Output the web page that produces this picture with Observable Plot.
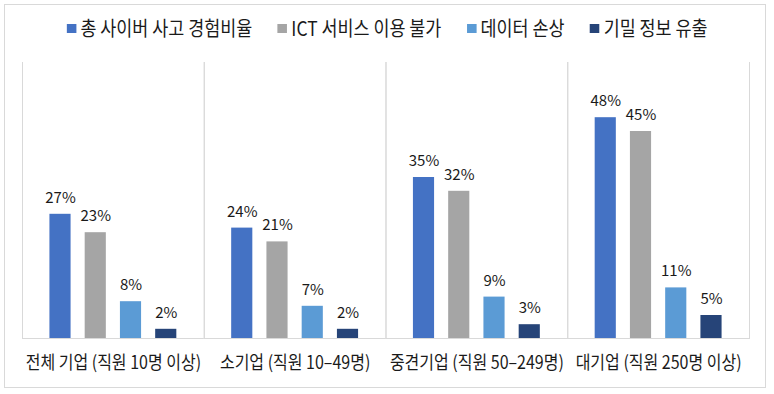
<!DOCTYPE html>
<html><head><meta charset="utf-8">
<script src="https://cdn.jsdelivr.net/npm/d3@7"></script>
<script src="https://cdn.jsdelivr.net/npm/@observablehq/plot@0.6"></script>
<style>
body{margin:0;background:#fff;font-family:"Noto Sans CJK KR",sans-serif;}
#frame{position:absolute;left:4px;top:4px;width:760px;height:382px;border:1px solid #d9d9d9;box-sizing:content-box;}
#legend{position:absolute;left:0;top:14px;width:774px;display:flex;justify-content:center;gap:29px;font-size:20px;line-height:28px;color:#1a1a1a;transform:scaleX(0.87);transform-origin:387px 0;white-space:nowrap;}
.item{display:flex;align-items:center;gap:5px;}
.sw{width:11px;height:9px;display:inline-block;}
#chart{position:absolute;left:0;top:50px;}
</style>
</head><body>
<div id="frame"></div>
<div id="legend"></div>
<div id="chart"></div>
<script>
const groups = ["전체 기업 (직원 10명 이상)", "소기업 (직원 10–49명)", "중견기업 (직원 50–249명)", "대기업 (직원 250명 이상)"];
const series = ["총 사이버 사고 경험비율", "ICT 서비스 이용 불가", "데이터 손상", "기밀 정보 유출"];
const totalIncidents = [27, 24, 35, 48];
const ictUnavailable = [23, 21, 32, 45];
const dataDamage = [8, 7, 9, 11];
const dataLeak = [2, 2, 3, 5];
const colors = ["#4472C4", "#A5A5A5", "#5B9BD5", "#264478"];

const valuesBySeries = [totalIncidents, ictUnavailable, dataDamage, dataLeak];
const rows = [];
groups.forEach((g, gi) => series.forEach((s, si) => rows.push({group: g, series: s, value: valuesBySeries[si][gi]})));

const legend = document.getElementById("legend");
series.forEach((s, i) => {
  const it = document.createElement("div");
  it.className = "item";
  const sw = document.createElement("span");
  sw.className = "sw"; sw.style.background = colors[i];
  const tx = document.createElement("span");
  tx.textContent = s;
  it.appendChild(sw); it.appendChild(tx);
  legend.appendChild(it);
});

const chart = Plot.plot({
  width: 774, height: 344,
  marginTop: 12, marginBottom: 56, marginLeft: 22, marginRight: 25,
  style: {fontFamily: "Noto Sans CJK KR", color: "#1a1a1a", background: "transparent"},
  fx: {domain: groups, padding: 0, label: null, round: false},
  x: {domain: series, axis: null, paddingInner: 0.4, paddingOuter: 0.778, round: false},
  y: {domain: [0, 60], axis: null},
  color: {domain: series, range: colors},
  marks: [
    Plot.frame({anchor: "left", stroke: "#d9d9d9"}),
    Plot.frame({anchor: "right", stroke: "#d9d9d9"}),
    Plot.ruleY([0], {stroke: "#d9d9d9"}),
    Plot.barY(rows, {fx: "group", x: "series", y: "value", fill: "series"}),
    Plot.text(rows, {fx: "group", x: "series", y: "value", text: d => d.value + "%", dy: -11.5, lineAnchor: "bottom", fontSize: 15, fill: "#1a1a1a"}),
    Plot.axisFx({anchor: "bottom", tickSize: 0, tickPadding: 18, fontSize: 18, label: null, className: "catAxis"})
  ]
});
// horizontally condense category labels to match the reference typeface width
d3.select(chart).selectAll("g[aria-label='fx-axis tick label'] text, .catAxis text").each(function() {
  const t = this.getAttribute("transform") || "";
  if (!t.includes("scale")) this.setAttribute("transform", t + " scale(0.89,1)");
});
document.getElementById("chart").appendChild(chart);
</script>
</body></html>
